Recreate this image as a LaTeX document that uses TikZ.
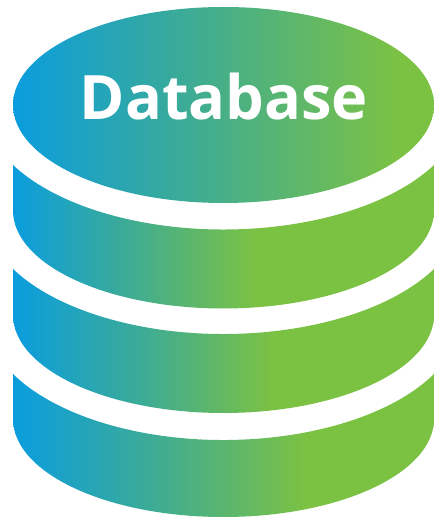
\documentclass[tikz,border=0pt]{standalone}
\usepackage{fontspec}
\setmainfont{Open Sans}
\definecolor{dbblue}{HTML}{0A9DDE}
\definecolor{dbteal}{HTML}{3BAB98}
\definecolor{dbgreen}{HTML}{7CC242}
\pgfdeclarehorizontalshading{dbtop}{100bp}{color(0bp)=(dbblue);color(25bp)=(dbblue);color(45bp)=(dbteal);color(71bp)=(dbgreen);color(100bp)=(dbgreen)}
\pgfdeclarehorizontalshading{dbone}{100bp}{color(0bp)=(dbblue);color(25bp)=(dbblue);color(38bp)=(dbteal);color(54bp)=(dbgreen);color(100bp)=(dbgreen)}
\pgfdeclarehorizontalshading{dbtwo}{100bp}{color(0bp)=(dbblue);color(25bp)=(dbblue);color(40bp)=(dbteal);color(56bp)=(dbgreen);color(100bp)=(dbgreen)}
\pgfdeclarehorizontalshading{dbthree}{100bp}{color(0bp)=(dbblue);color(25bp)=(dbblue);color(41bp)=(dbteal);color(60bp)=(dbgreen);color(100bp)=(dbgreen)}
% #1 height of the upper corners, #2 lowest point of the upper edge, #3 lowest point of the band, #4 shading
\newcommand{\dbband}[4]{%
  \pgfmathsetmacro{\dbdy}{#2+124.5-#1}%
  \pgfmathsetmacro{\dbang}{asin(\dbdy/124.5)}%
  \pgfmathsetmacro{\dbrx}{210.5/cos(\dbang)}%
  \shade[shading=#4] (13,#1) -- (13,#3+98)
    arc[start angle=180,end angle=360,x radius=210.5,y radius=98]
    -- (434,#1)
    arc[start angle=-\dbang,end angle=-180+\dbang,x radius=\dbrx,y radius=124.5]
    -- cycle;%
}
\tikzset{dblabel/.style={text=white,font=\fontsize{61.5}{70}\selectfont\bfseries,inner sep=0pt,anchor=base}}
\begin{document}
\begin{tikzpicture}[x=1bp,y=1bp]
\useasboundingbox (0,0) rectangle (434,518);
\shade[shading=dbtop] (223.5,413) ellipse[x radius=210.5,y radius=98];
\dbband{353}{288.5}{209.5}{dbone}
\dbband{249}{184}{105}{dbtwo}
\dbband{144}{78}{1}{dbthree}
\node[dblabel] (title) at (224,398) {Database};
\end{tikzpicture}
\end{document}
